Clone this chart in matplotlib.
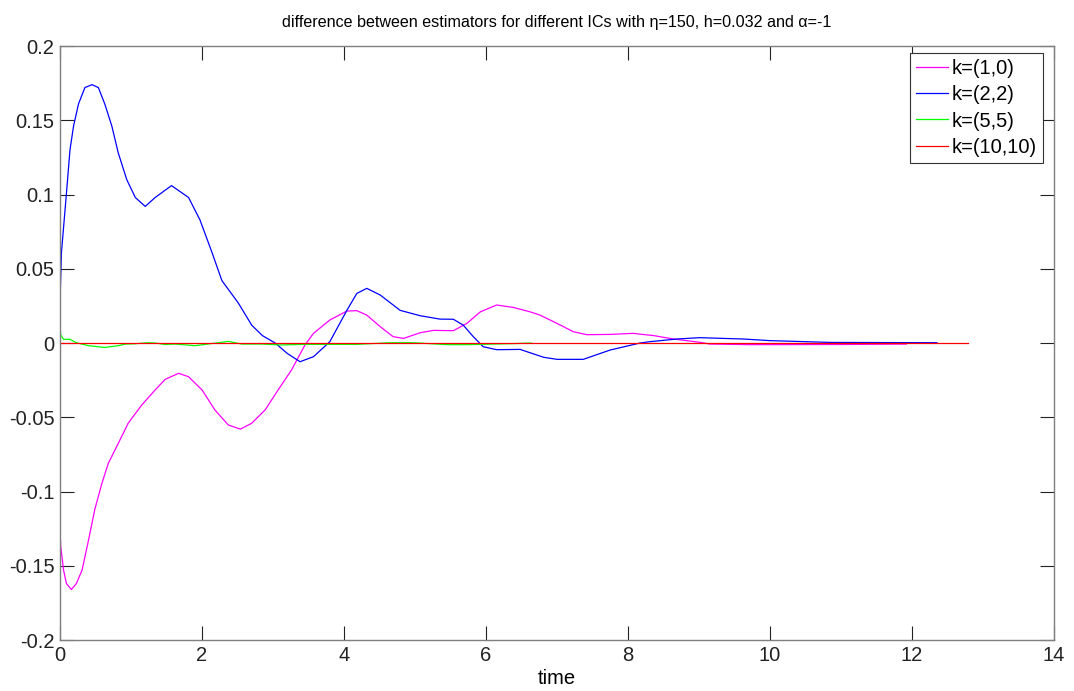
import numpy as np
import matplotlib
matplotlib.use("Agg")
import matplotlib.pyplot as plt

plt.rcParams["font.family"] = ["Liberation Sans", "DejaVu Sans"]

# k=(1,0)
t_k10 = [0.0, 0.01, 0.05, 0.09, 0.16, 0.23, 0.31, 0.40, 0.49, 0.59, 0.68, 0.82,
         0.96, 1.15, 1.34, 1.48, 1.67, 1.81, 2.0, 2.18, 2.37, 2.54, 2.70, 2.89,
         3.08, 3.26, 3.45, 3.57, 3.80, 4.04, 4.18, 4.32, 4.51, 4.69, 4.84, 5.07,
         5.26, 5.54, 5.73, 5.92, 6.15, 6.38, 6.62, 6.76, 7.0, 7.23, 7.42, 7.75,
         8.07, 8.36, 8.64, 9.01, 9.15, 9.72, 10.99, 11.92]
y_k10 = [-0.126, -0.137, -0.153, -0.162, -0.166, -0.162, -0.153, -0.133, -0.112,
         -0.0945, -0.081, -0.0676, -0.054, -0.0418, -0.0316, -0.0245, -0.0204,
         -0.0227, -0.0316, -0.045, -0.0552, -0.058, -0.054, -0.045, -0.031,
         -0.0182, -0.0013, 0.0065, 0.0155, 0.0215, 0.0218, 0.0188, 0.011, 0.0043,
         0.0031, 0.0069, 0.0085, 0.0083, 0.0132, 0.021, 0.0256, 0.024, 0.021,
         0.0188, 0.0132, 0.0076, 0.0056, 0.0058, 0.0065, 0.005, 0.0027, 0.0005,
         -0.0007, -0.0011, -0.001, -0.0007]

# k=(2,2)
t_k22 = [0.0, 0.02, 0.094, 0.14, 0.19, 0.26, 0.35, 0.45, 0.54, 0.63, 0.73, 0.82,
         0.94, 1.06, 1.20, 1.34, 1.57, 1.81, 1.97, 2.14, 2.28, 2.51, 2.70, 2.85,
         3.03, 3.20, 3.38, 3.57, 3.80, 4.04, 4.18, 4.32, 4.51, 4.79, 5.07, 5.35,
         5.54, 5.68, 5.82, 5.96, 6.15, 6.48, 6.81, 7.0, 7.37, 7.75, 8.17, 8.31,
         8.69, 9.01, 9.62, 10.0, 10.85, 12.35]
y_k22 = [0.028, 0.061, 0.103, 0.130, 0.146, 0.161, 0.172, 0.174, 0.172, 0.161,
         0.146, 0.128, 0.110, 0.098, 0.092, 0.098, 0.106, 0.098, 0.083, 0.061,
         0.042, 0.027, 0.012, 0.005, 0.0, -0.007, -0.0126, -0.0092, 0.0009,
         0.022, 0.0334, 0.0368, 0.0323, 0.022, 0.0184, 0.0161, 0.016, 0.012,
         0.0043, -0.0025, -0.0045, -0.0043, -0.0096, -0.011, -0.011, -0.0047,
         0.0, 0.0009, 0.0027, 0.0036, 0.0027, 0.0016, 0.0004, 0.0002]

# k=(5,5)
t_k55 = [0.0, 0.01, 0.05, 0.14, 0.23, 0.40, 0.63, 0.82, 0.92, 1.06, 1.24, 1.34,
         1.48, 1.62, 1.90, 2.28, 2.37, 2.56, 2.84, 3.10, 3.43, 4.18, 4.65, 4.98,
         5.45, 5.73, 6.38, 6.64]
y_k55 = [0.011, 0.0054, 0.0025, 0.0025, 0.0002, -0.0018, -0.003, -0.0018,
         -0.0007, -0.0005, 0.0002, 0.0, -0.001, -0.0007, -0.0018, 0.0005, 0.0011,
         -0.0007, -0.0007, -0.0013, -0.0009, -0.0009, 0.0002, 0.0002, -0.0011,
         -0.0011, -0.0004, 0.0]

# k=(10,10)
t_k1010 = [0.0, 12.79]
y_k1010 = [0.0, 0.0]

labels = ["k=(1,0)", "k=(2,2)", "k=(5,5)", "k=(10,10)"]
colors = ["#ff00ff", "#0000ff", "#00ff00", "#ff0000"]

xticks = np.arange(0, 15, 2)
yticks = [-0.2, -0.15, -0.1, -0.05, 0, 0.05, 0.1, 0.15, 0.2]
ytick_labels = ["-0.2", "-0.15", "-0.1", "-0.05", "0", "0.05", "0.1", "0.15", "0.2"]

fig = plt.figure(figsize=(10.74, 6.91), dpi=100)
ax = fig.add_axes([0.0559, 0.0738, 0.9255, 0.8596])

series = [(t_k10, y_k10), (t_k22, y_k22), (t_k55, y_k55), (t_k1010, y_k1010)]
for (t, y), lab, c in zip(series, labels, colors):
    ax.plot(t, y, color=c, lw=0.9, label=lab)

ax.set_xlim(0, 14)
ax.set_ylim(-0.2, 0.2)
ax.set_xticks(xticks)
ax.set_xticklabels([str(v) for v in xticks])
ax.set_yticks(yticks)
ax.set_yticklabels(ytick_labels)
ax.tick_params(direction="in", length=10, width=0.8, top=True, right=True,
               labelsize=14.5, colors="#222222", pad=4)
for s in ax.spines.values():
    s.set_color("#7f7f7f")
    s.set_linewidth(1.0)

ax.set_xlabel("time", fontsize=14.5, labelpad=3)
ax.set_title("difference between estimators for different ICs with \u03b7=150, h=0.032 and \u03b1=-1",
             fontsize=11.6, pad=14)

# legend box: right edge ~1043 px, top ~53 px in the 1074x691 picture
leg = ax.legend(loc="upper right", bbox_to_anchor=(1043 / 1074, 1 - 53 / 691),
                bbox_transform=fig.transFigure, fontsize=14.5, fancybox=False,
                framealpha=1, edgecolor="#333333", borderaxespad=0,
                handlelength=1.6, handletextpad=0.2, labelspacing=0.36,
                borderpad=0.3)
leg.get_frame().set_linewidth(0.8)

fig.savefig("out.png", dpi=100)
